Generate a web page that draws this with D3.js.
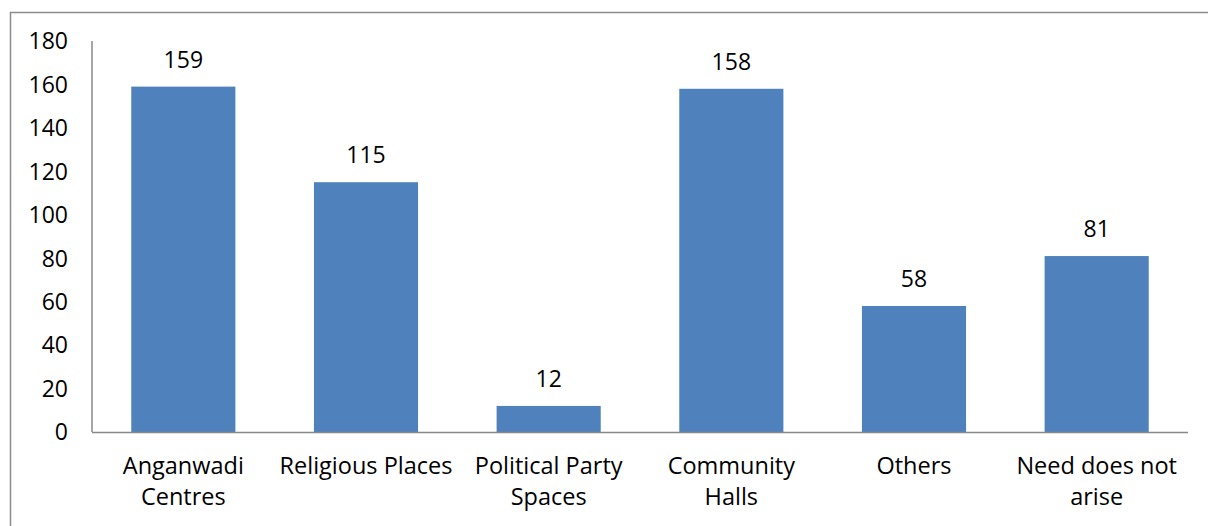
<!DOCTYPE html>
<html><head><meta charset="utf-8">
<script src="https://cdn.jsdelivr.net/npm/d3@7"></script>
<style>body{margin:0;background:#fff;} svg{display:block;} text{font-family:"Open Sans",sans-serif;fill:#000;}</style>
</head><body>
<svg id="c" width="1208" height="526"></svg>
<script>
const categories = [["Anganwadi","Centres"],["Religious Places"],["Political Party","Spaces"],["Community","Halls"],["Others"],["Need does not","arise"]];
const values = [159,115,12,158,58,81];
const yTicks = [0,20,40,60,80,100,120,140,160,180];

(function(){
const svg = d3.select("#c");
const fs = 23, fx = 23.5;
svg.append("rect").attr("x",10.5).attr("y",12.5).attr("width",1210).attr("height",530)
  .attr("fill","none").attr("stroke","#8c8c8c").attr("stroke-width",1.5);

const pl=92, pr=1188, pt=41, pb=432;
const x = d3.scaleBand().domain(d3.range(categories.length)).range([pl,pr]).paddingInner(0.43).paddingOuter(0.215);
const y = d3.scaleLinear().domain([0,180]).range([pb,pt]);

svg.append("g").selectAll("rect").data(values).join("rect")
  .attr("x",(d,i)=>x(i)).attr("width",x.bandwidth())
  .attr("y",d=>y(d)).attr("height",d=>pb-y(d)).attr("fill","#4F81BD");

svg.append("g").selectAll("text").data(values).join("text")
  .attr("x",(d,i)=>x(i)+x.bandwidth()/2).attr("y",d=>y(d)-19)
  .attr("text-anchor","middle").attr("font-size",fs).text(d=>d);

svg.append("line").attr("x1",pl).attr("x2",pl).attr("y1",pt).attr("y2",pb).attr("stroke","#888").attr("stroke-width",1.5);
svg.append("line").attr("x1",pl).attr("x2",pr).attr("y1",pb+0.5).attr("y2",pb+0.5).attr("stroke","#888").attr("stroke-width",1.5);

svg.append("g").selectAll("text").data(yTicks).join("text")
  .attr("x",68).attr("y",d=>y(d)).attr("dy","0.36em").attr("text-anchor","end").attr("font-size",fs).text(d=>d);

const xl = svg.append("g").selectAll("text").data(categories).join("text")
  .attr("text-anchor","middle").attr("font-size",fx)
  .attr("x",(d,i)=>x(i)+x.bandwidth()/2).attr("y",474);
xl.each(function(d){
  const t=d3.select(this);
  d.forEach((s,j)=>t.append("tspan").attr("x",t.attr("x")).attr("dy",j?31:0).text(s));
});
})();
</script>
</body></html>
